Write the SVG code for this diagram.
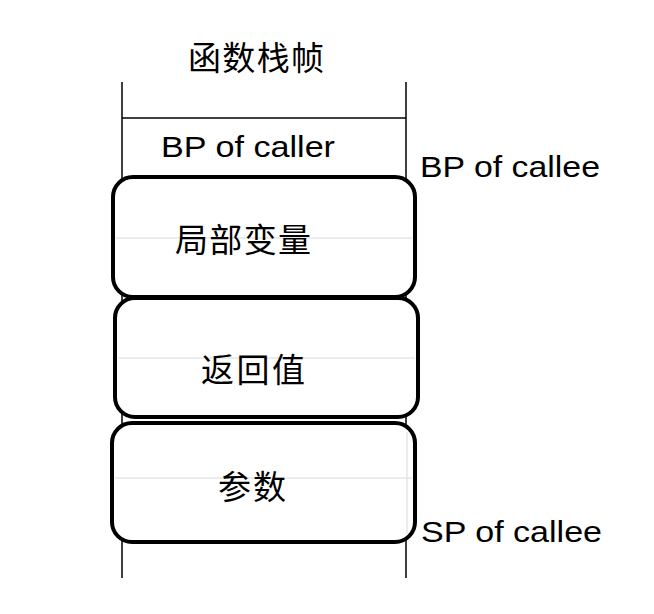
<svg xmlns="http://www.w3.org/2000/svg" width="654" height="614" viewBox="0 0 654 614">
<style>
.cjk{font-family:"Noto Sans CJK SC","Noto Sans",sans-serif;font-size:33px;font-weight:400;fill:#000;text-anchor:middle;dominant-baseline:central}
.en{font-family:"Liberation Sans","Noto Sans",sans-serif;font-size:30px;fill:#000}
.box{fill:#fff;stroke:#000;stroke-width:4}
.line{stroke:#000;stroke-width:1.5;fill:none}
.faint{stroke:#e6e6e6;stroke-width:1.5;fill:none}
</style>
<rect width="654" height="614" fill="#fff"/>
<g id="frame">
<line class="line" x1="122" y1="82" x2="122" y2="578"/>
<line class="line" x1="406" y1="82" x2="406" y2="578"/>
<line class="line" x1="122" y1="118" x2="406" y2="118"/>
<text class="cjk" x="256" y="56" textLength="136" lengthAdjust="spacing">函数栈帧</text>
</g>
<g id="bp-caller">
<text class="en" x="161" y="157" textLength="174" lengthAdjust="spacingAndGlyphs">BP of caller</text>
</g>
<g id="local-vars">
<rect class="box" x="113" y="177" width="302" height="120" rx="20"/>
<line class="faint" x1="116" y1="238" x2="412" y2="238"/>
<text class="cjk" x="243" y="238" textLength="136" lengthAdjust="spacing">局部变量</text>
</g>
<g id="return-value">
<rect class="box" x="115" y="298" width="303" height="119" rx="20"/>
<line class="faint" x1="118" y1="358" x2="415" y2="358"/>
<text class="cjk" x="253" y="368" textLength="104" lengthAdjust="spacing">返回值</text>
</g>
<g id="params">
<rect class="box" x="112" y="423" width="303" height="119" rx="20"/>
<line class="faint" x1="115" y1="478" x2="412" y2="478"/>
<line class="faint" x1="407" y1="432" x2="407" y2="534"/>
<text class="cjk" x="252" y="485" textLength="68" lengthAdjust="spacing">参数</text>
</g>
<g id="bp-callee">
<text class="en" x="420" y="177" textLength="180" lengthAdjust="spacingAndGlyphs">BP of callee</text>
</g>
<g id="sp-callee">
<text class="en" x="421" y="542" textLength="181" lengthAdjust="spacingAndGlyphs">SP of callee</text>
</g>
<g id="connectors"></g>
</svg>
